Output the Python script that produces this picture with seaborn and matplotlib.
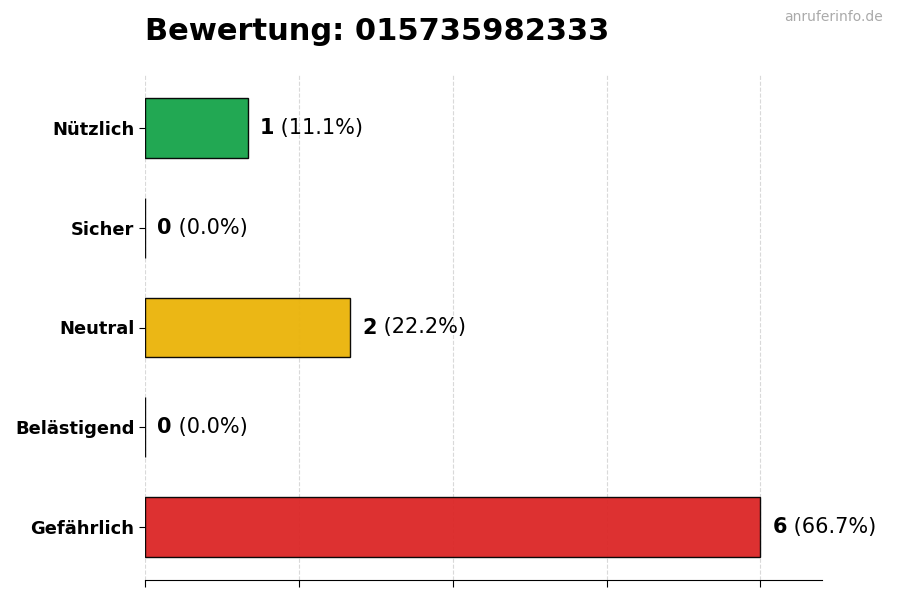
import matplotlib
matplotlib.use("Agg")
import matplotlib.pyplot as plt
import seaborn as sns
import pandas as pd

categories = ["Nützlich", "Sicher", "Neutral", "Belästigend", "Gefährlich"]
counts = [1, 0, 2, 0, 6]
colors = ["#16a34a", "#9ca3af", "#eab308", "#f97316", "#dc2626"]
title = "Bewertung: 015735982333"
watermark = "anruferinfo.de"
xticks = [0, 1.5, 3, 4.5, 6]

sns.set_style("white")
plt.rcParams['font.family'] = ['DejaVu Sans']
plt.rcParams['text.color'] = 'black'
plt.rcParams['axes.labelcolor'] = 'black'
plt.rcParams['xtick.color'] = 'black'
plt.rcParams['ytick.color'] = 'black'

total = sum(counts)
df = pd.DataFrame({"cat": categories, "n": counts})

fig = plt.figure(figsize=(9, 6), dpi=100)
ax = fig.add_axes([145/900, 1 - 580/600, (822-145)/900, (580-75)/600])

sns.barplot(data=df, y="cat", x="n", hue="cat", palette=colors, order=categories,
            hue_order=categories, orient="h", width=0.6, edgecolor="black",
            linewidth=1, alpha=0.95, saturation=1, legend=False, ax=ax, zorder=2)

ax.set_xlim(0, max(counts) * 1.1)
ax.set_ylim(4.53, -0.53)
ax.set_xticks(xticks)
ax.set_xticklabels([])
ax.xaxis.grid(True, linestyle="--", color="#d9d9d9", linewidth=0.8, zorder=0)
ax.set_axisbelow(True)
ax.set_xlabel("")
ax.set_ylabel("")
for s in ["top", "right", "left"]:
    ax.spines[s].set_visible(False)
ax.spines["bottom"].set_color("black")
ax.tick_params(axis="x", bottom=True, length=5, color="black")
ax.tick_params(axis="y", left=True, length=4, color="black")
for lbl in ax.get_yticklabels():
    lbl.set_fontweight("bold")
    lbl.set_fontsize(12.9)
    lbl.set_color("black")

off = max(counts) * 0.02
for i, c in enumerate(counts):
    pct = c / total * 100
    t1 = ax.text(c + off, i, f"{c}", fontweight="bold", fontsize=15, va="center",
                 ha="left", color="black")
    ax.annotate(f" ({pct:.1f}%)", xy=(1, 0.5), xycoords=t1, va="center", ha="left",
                fontsize=15, color="black")

fig.text(145/900, 1 - 31/600, title, fontsize=22, fontweight="bold", ha="left",
         va="center", color="black")
fig.text(883/900, 1 - 17/600, watermark, fontsize=10, color="#aaaaaa", ha="right", va="center")

fig.savefig("out.png", dpi=100)
